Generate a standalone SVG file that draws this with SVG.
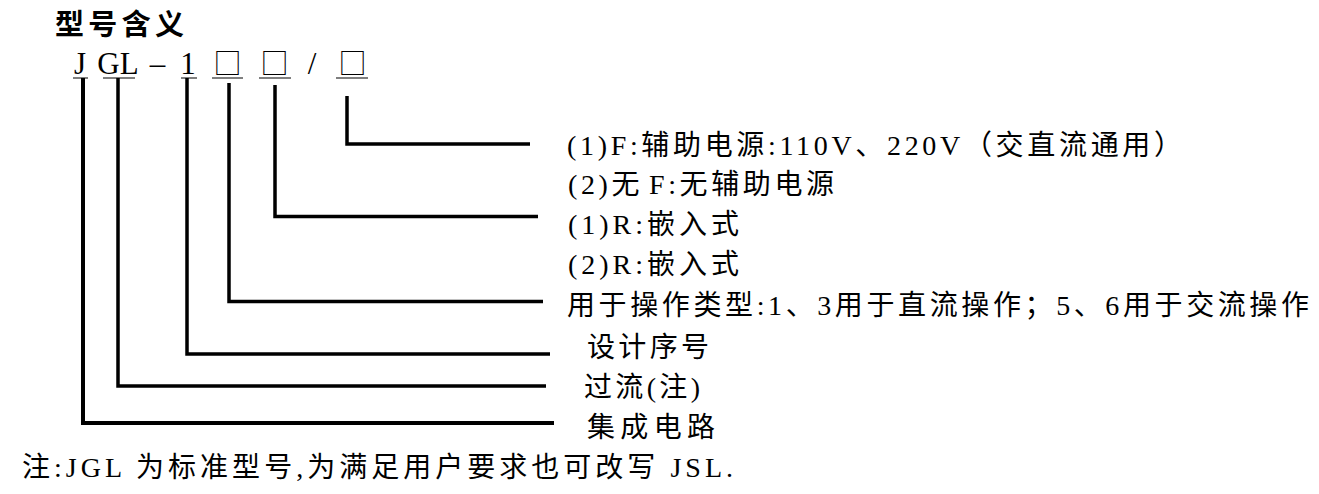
<svg xmlns="http://www.w3.org/2000/svg" width="1319" height="494" viewBox="0 0 1319 494">
<style>
.t{font-family:"Liberation Serif","Noto Sans CJK SC",serif;font-size:28px;fill:#000}
.top{font-family:"Liberation Serif","Noto Sans CJK SC",serif;font-size:31px;fill:#000;text-anchor:middle}
.box{font-family:"Noto Sans CJK SC",sans-serif;font-size:28px;fill:#000;text-anchor:middle}
.title{font-family:"Noto Sans CJK SC",sans-serif;font-size:29px;font-weight:bold;fill:#000}
.ul{stroke:#000;stroke-width:1.2;fill:none}
.c{stroke:#000;stroke-width:3.5;fill:none;stroke-linejoin:miter;stroke-linecap:butt}
</style>
<rect width="1319" height="494" fill="#fff"/>
<g id="title"><text class="title" x="55" y="35" textLength="129" lengthAdjust="spacing">型号含义</text></g>
<g id="model">
<text class="top" x="80" y="74">J</text>
<text class="top" x="118" y="74">GL</text>
<text class="top" x="157.5" y="74">–</text>
<text class="top" x="188" y="74">1</text>
<text class="box" x="227.5" y="74">□</text>
<text class="box" x="274.5" y="74">□</text>
<text class="top" x="312" y="74">/</text>
<text class="box" x="352.5" y="74">□</text>
<path class="ul" d="M73,78H88M103,78H135M181,78H197M212,78H243M259,78H291M336,78H368"/>
</g>
<g id="connectors">
<path class="c" d="M347,96V144H530"/>
<path class="c" d="M275,85V216.5H538"/>
<path class="c" d="M229,83V301.5H543"/>
<path class="c" d="M187,78V354H550"/>
<path class="c" d="M118,78V386H546"/>
<path class="c" style="stroke-width:4" d="M83,78V423H554"/>
</g>
<g id="label-aux"><text class="t" x="567" y="155" textLength="615" lengthAdjust="spacing">(1)F:辅助电源:110V、220V（交直流通用）</text>
<text class="t" x="568" y="194" style="letter-spacing:3.6px">(2)无<tspan dx="6">F:无辅助电源</tspan></text></g>
<g id="label-mount"><text class="t" x="568" y="234" textLength="171" lengthAdjust="spacing">(1)R:嵌入式</text>
<text class="t" x="568" y="274" textLength="171" lengthAdjust="spacing">(2)R:嵌入式</text></g>
<g id="label-op"><text class="t" x="567" y="315" textLength="742" lengthAdjust="spacing">用于操作类型:1、3用于直流操作；5、6用于交流操作</text></g>
<g id="label-seq"><text class="t" x="587" y="357" textLength="122" lengthAdjust="spacing">设计序号</text></g>
<g id="label-oc"><text class="t" x="584" y="397" textLength="116" lengthAdjust="spacing">过流(注)</text></g>
<g id="label-ic"><text class="t" x="587" y="437" textLength="128" lengthAdjust="spacing">集成电路</text></g>
<g id="note"><text class="t" x="22" y="477" textLength="711" lengthAdjust="spacing">注:JGL 为标准型号,为满足用户要求也可改写 JSL.</text></g>
</svg>
